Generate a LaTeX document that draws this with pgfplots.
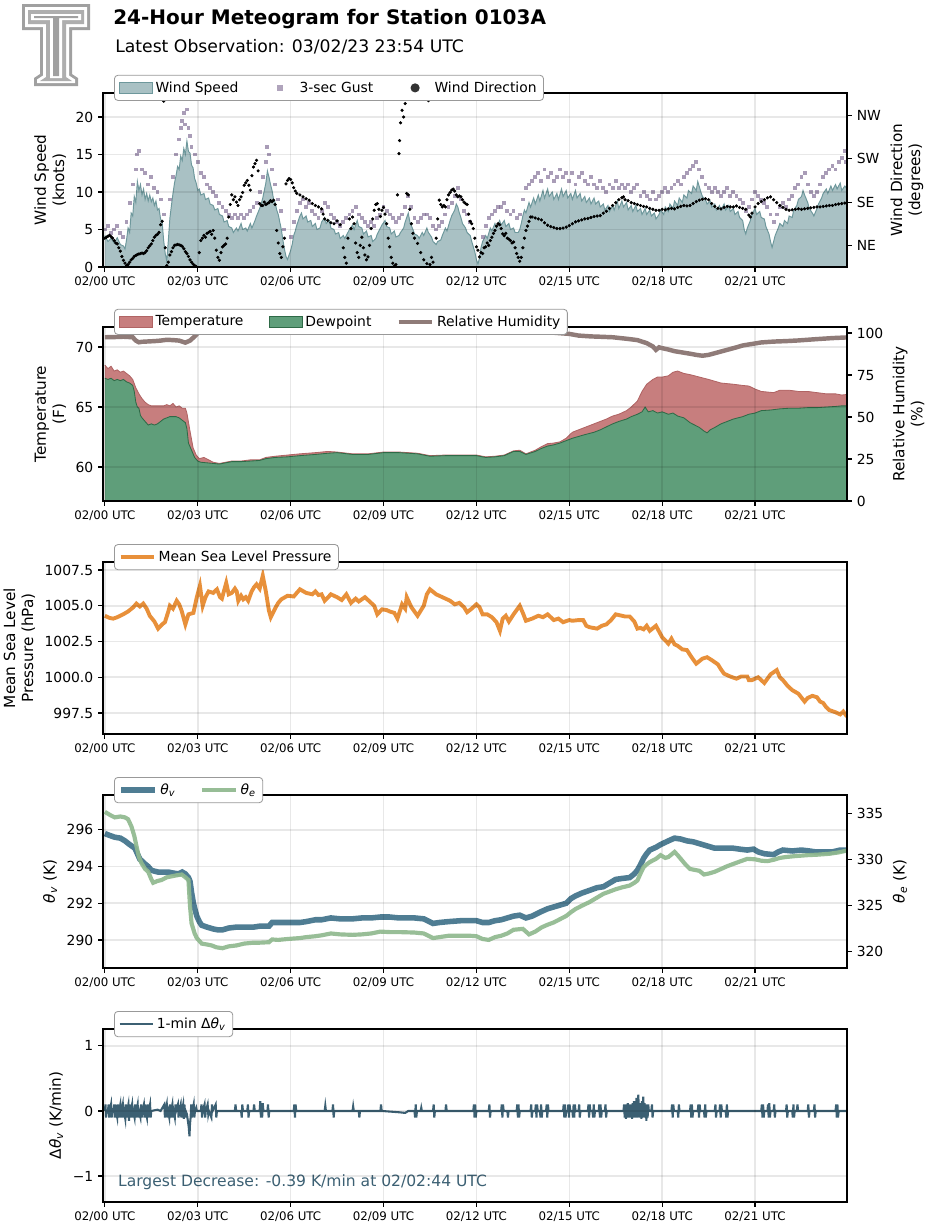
\documentclass[border=0pt]{standalone}
\usepackage{fontspec}
\setmainfont{DejaVu Sans}
\usepackage{pgfplots}
\usepackage{pgfplotstable}
\pgfplotsset{compat=1.18}

\definecolor{windfill}{HTML}{A9C1C4}
\definecolor{windedge}{HTML}{6E989C}
\definecolor{gustc}{HTML}{7B6790}
\definecolor{tempfill}{HTML}{C77E7E}
\definecolor{tempedge}{HTML}{B06464}
\definecolor{dewfill}{HTML}{5F9E7A}
\definecolor{dewedge}{HTML}{2F6A47}
\definecolor{rhc}{HTML}{8F7B78}
\definecolor{presc}{HTML}{E8903A}
\definecolor{thvc}{HTML}{4F7D93}
\definecolor{thec}{HTML}{8FB88E}
\definecolor{dthc}{HTML}{3C6073}
\definecolor{logoc}{HTML}{A0A0A0}

% pixel -> pt (reference drawn at 100 dpi)
\newcommand\PX[2]{({#1*0.72pt},{-#2*0.72pt})}
\newcommand\thv{\textit{θ}\textsubscript{\textit{v}}}
\newcommand\thetae{\textit{θ}\textsubscript{\textit{e}}}

% wind speed (knots) vs hour
\pgfplotstableread[row sep=\\]{
h v\\
0 4.2\\ 0.1 3.4\\ 0.2 3.8\\ 0.3 3.2\\ 0.4 3.9\\ 0.5 3.0\\ 0.6 2.8\\ 0.65 2.4\\ 0.7 3.6\\ 0.75 5.2\\ 0.8 4.6\\ 0.85 7.2\\ 0.9 6.8\\ 0.95 9.4\\ 1.0 8.6\\ 1.05 11.4\\ 1.1 10.2\\ 1.15 11.0\\ 1.2 9.6\\ 1.25 10.4\\ 1.3 9.0\\ 1.35 9.8\\ 1.4 8.8\\ 1.45 9.6\\ 1.5 8.7\\ 1.55 9.2\\ 1.6 8.2\\ 1.65 8.8\\ 1.7 7.6\\ 1.75 7.8\\ 1.8 6.4\\ 1.85 6.0\\ 1.9 3.5\\ 1.95 1.8\\ 2.0 0.8\\ 2.05 3.5\\ 2.1 6.5\\ 2.15 8.2\\ 2.2 9.8\\ 2.25 11.2\\ 2.3 12.2\\ 2.35 13.4\\ 2.4 13.0\\ 2.45 14.8\\ 2.5 14.2\\ 2.55 15.8\\ 2.6 15.0\\ 2.65 16.8\\ 2.7 15.4\\ 2.75 15.2\\ 2.8 13.6\\ 2.85 13.2\\ 2.9 11.8\\ 2.95 11.2\\ 3.0 10.2\\ 3.05 10.4\\ 3.1 9.6\\ 3.2 9.8\\ 3.25 9.0\\ 3.35 9.2\\ 3.4 8.4\\ 3.5 8.2\\ 3.55 7.6\\ 3.65 7.8\\ 3.7 7.0\\ 3.8 6.8\\ 3.85 6.0\\ 3.95 6.2\\ 4.0 5.4\\ 4.1 5.2\\ 4.15 4.6\\ 4.25 5.2\\ 4.3 4.8\\ 4.4 5.8\\ 4.45 5.0\\ 4.55 5.2\\ 4.6 4.8\\ 4.7 5.8\\ 4.75 5.2\\ 4.85 6.2\\ 4.9 6.8\\ 5.0 7.8\\ 5.05 8.4\\ 5.1 9.2\\ 5.15 10.2\\ 5.2 11.2\\ 5.25 12.8\\ 5.3 12.0\\ 5.35 11.0\\ 5.4 10.2\\ 5.45 9.0\\ 5.5 8.6\\ 5.55 7.6\\ 5.6 7.0\\ 5.65 6.0\\ 5.7 5.0\\ 5.75 3.6\\ 5.8 2.4\\ 5.85 1.4\\ 5.9 1.0\\ 5.95 1.6\\ 6.0 2.2\\ 6.05 3.0\\ 6.1 4.2\\ 6.15 4.8\\ 6.2 5.6\\ 6.25 6.2\\ 6.3 6.8\\ 6.35 7.2\\ 6.4 6.4\\ 6.5 6.8\\ 6.55 6.0\\ 6.65 6.2\\ 6.7 5.4\\ 6.8 5.8\\ 6.85 5.0\\ 6.95 5.2\\ 7.0 6.0\\ 7.1 6.6\\ 7.15 5.8\\ 7.25 6.2\\ 7.3 5.2\\ 7.4 5.0\\ 7.45 4.4\\ 7.55 4.6\\ 7.6 3.8\\ 7.7 4.2\\ 7.75 3.8\\ 7.85 4.6\\ 7.9 5.0\\ 8.0 5.6\\ 8.05 5.0\\ 8.15 6.2\\ 8.2 5.4\\ 8.3 5.2\\ 8.35 4.4\\ 8.45 4.8\\ 8.5 4.0\\ 8.6 4.2\\ 8.65 3.4\\ 8.75 3.8\\ 8.8 4.4\\ 8.9 5.2\\ 8.95 5.6\\ 9.05 6.2\\ 9.1 5.4\\ 9.2 5.2\\ 9.25 4.4\\ 9.35 4.8\\ 9.4 4.0\\ 9.5 4.2\\ 9.55 4.6\\ 9.65 5.2\\ 9.7 6.0\\ 9.8 7.2\\ 9.85 6.0\\ 9.95 5.0\\ 10.0 4.4\\ 10.1 4.2\\ 10.15 3.8\\ 10.25 4.6\\ 10.3 4.2\\ 10.4 5.2\\ 10.45 4.6\\ 10.55 4.0\\ 10.6 3.4\\ 10.7 3.0\\ 10.75 3.4\\ 10.85 3.6\\ 10.9 4.2\\ 11.0 5.2\\ 11.05 4.8\\ 11.15 6.2\\ 11.2 6.8\\ 11.3 7.6\\ 11.35 8.4\\ 11.4 8.0\\ 11.45 7.2\\ 11.5 6.6\\ 11.55 5.8\\ 11.65 5.2\\ 11.7 4.6\\ 11.8 4.2\\ 11.85 3.4\\ 11.95 2.0\\ 12.0 1.0\\ 12.05 0.4\\ 12.1 1.2\\ 12.15 2.6\\ 12.2 3.4\\ 12.3 4.2\\ 12.35 3.8\\ 12.45 5.2\\ 12.5 4.8\\ 12.6 5.8\\ 12.65 5.2\\ 12.75 6.2\\ 12.8 5.6\\ 12.9 6.2\\ 12.95 5.4\\ 13.05 5.8\\ 13.1 5.0\\ 13.2 5.2\\ 13.25 4.6\\ 13.35 4.6\\ 13.4 5.0\\ 13.45 5.8\\ 13.5 6.8\\ 13.55 7.6\\ 13.6 7.2\\ 13.7 8.6\\ 13.75 8.0\\ 13.85 9.2\\ 13.9 8.4\\ 14.0 9.6\\ 14.05 8.8\\ 14.15 10.2\\ 14.2 9.2\\ 14.3 10.4\\ 14.35 9.4\\ 14.45 10.0\\ 14.5 9.0\\ 14.6 9.8\\ 14.65 9.0\\ 14.75 10.4\\ 14.8 9.4\\ 14.9 10.2\\ 14.95 9.2\\ 15.05 9.8\\ 15.1 9.0\\ 15.2 10.2\\ 15.25 9.2\\ 15.35 9.8\\ 15.4 8.8\\ 15.5 9.4\\ 15.55 8.6\\ 15.65 9.2\\ 15.7 8.4\\ 15.8 9.2\\ 15.85 8.4\\ 15.95 8.8\\ 16.0 8.0\\ 16.1 8.4\\ 16.15 7.6\\ 16.25 8.2\\ 16.3 7.4\\ 16.4 8.2\\ 16.45 7.6\\ 16.55 8.8\\ 16.6 7.8\\ 16.7 8.8\\ 16.75 8.0\\ 16.85 8.6\\ 16.9 7.6\\ 17.0 8.2\\ 17.05 7.4\\ 17.15 8.2\\ 17.2 7.4\\ 17.3 7.8\\ 17.35 7.0\\ 17.45 7.8\\ 17.5 7.0\\ 17.6 7.6\\ 17.65 6.8\\ 17.75 7.2\\ 17.8 6.4\\ 17.9 7.0\\ 17.95 7.6\\ 18.05 7.0\\ 18.1 8.0\\ 18.2 7.4\\ 18.25 8.4\\ 18.35 7.8\\ 18.4 8.8\\ 18.5 8.2\\ 18.55 9.2\\ 18.65 8.6\\ 18.7 9.6\\ 18.8 9.2\\ 18.85 10.2\\ 18.95 9.8\\ 19.0 10.8\\ 19.1 10.2\\ 19.15 11.4\\ 19.25 10.0\\ 19.3 9.4\\ 19.4 9.0\\ 19.45 8.4\\ 19.55 8.8\\ 19.6 8.0\\ 19.7 8.4\\ 19.75 7.6\\ 19.85 8.2\\ 19.9 7.6\\ 20.0 8.4\\ 20.05 7.6\\ 20.15 8.2\\ 20.2 7.4\\ 20.3 7.8\\ 20.35 7.0\\ 20.45 7.4\\ 20.5 6.6\\ 20.6 6.2\\ 20.65 5.0\\ 20.7 4.4\\ 20.75 5.2\\ 20.85 6.2\\ 20.9 7.0\\ 21.0 7.8\\ 21.05 7.0\\ 21.15 7.4\\ 21.2 6.6\\ 21.3 6.4\\ 21.35 5.4\\ 21.45 4.4\\ 21.5 3.4\\ 21.55 2.6\\ 21.6 3.4\\ 21.65 4.2\\ 21.75 5.2\\ 21.8 5.8\\ 21.9 5.4\\ 21.95 6.2\\ 22.05 5.8\\ 22.1 6.8\\ 22.2 6.6\\ 22.25 7.6\\ 22.35 8.2\\ 22.4 9.0\\ 22.5 9.4\\ 22.55 10.2\\ 22.6 9.6\\ 22.7 8.6\\ 22.75 7.8\\ 22.85 7.2\\ 22.9 6.8\\ 23.0 7.8\\ 23.05 8.4\\ 23.15 9.2\\ 23.2 9.8\\ 23.3 10.4\\ 23.35 9.8\\ 23.45 10.8\\ 23.5 10.2\\ 23.6 11.0\\ 23.65 10.4\\ 23.75 11.2\\ 23.8 10.2\\ 23.9 10.8\\ 23.97 10.4\\
}\speed

% 3-second gusts (knots)
\pgfplotstableread[row sep=\\]{
h g\\
0.0 5\\ 0.1 5.5\\ 0.2 4.5\\ 0.3 5\\ 0.4 5.5\\ 0.5 4.5\\ 0.6 4\\ 0.7 6\\ 0.8 8.5\\ 0.9 11\\ 1.0 13\\ 1.05 15\\ 1.1 15.5\\ 1.2 13\\ 1.3 12.5\\ 1.4 11\\ 1.5 12\\ 1.6 10.5\\ 1.7 10\\ 1.8 9\\ 1.9 7\\ 2.1 9\\ 2.2 12\\ 2.3 15\\ 2.4 17\\ 2.45 18.5\\ 2.5 19.5\\ 2.55 20.5\\ 2.6 19\\ 2.65 21\\ 2.7 18.5\\ 2.75 17.5\\ 2.8 16\\ 2.9 15\\ 3.0 14\\ 3.1 12.5\\ 3.2 12\\ 3.3 11\\ 3.4 10.5\\ 3.5 10\\ 3.6 9.5\\ 3.7 8.5\\ 3.8 8\\ 3.9 7.5\\ 4.0 7\\ 4.1 6.5\\ 4.2 7\\ 4.3 6.5\\ 4.4 7\\ 4.5 6.5\\ 4.6 7\\ 4.7 7.5\\ 4.8 8\\ 4.9 8.5\\ 5.0 10\\ 5.1 12\\ 5.2 14\\ 5.25 16\\ 5.3 15\\ 5.4 13\\ 5.5 11\\ 5.6 9\\ 5.7 7.5\\ 5.8 5\\ 6.0 4\\ 6.1 6\\ 6.2 7.5\\ 6.3 8.5\\ 6.4 9\\ 6.5 8\\ 6.6 8.5\\ 6.7 7.5\\ 6.8 7\\ 6.9 6.5\\ 7.0 7.5\\ 7.1 8.5\\ 7.2 8\\ 7.3 7\\ 7.4 6.5\\ 7.5 6\\ 7.6 5.5\\ 7.7 6\\ 7.8 6.5\\ 7.9 7\\ 8.0 7.5\\ 8.1 8\\ 8.2 7\\ 8.3 6.5\\ 8.4 6\\ 8.5 5.5\\ 8.6 6\\ 8.7 5.5\\ 8.8 6.5\\ 8.9 7\\ 9.0 8\\ 9.1 7.5\\ 9.2 7\\ 9.3 6.5\\ 9.4 6\\ 9.5 6.5\\ 9.6 7\\ 9.7 8\\ 9.8 9.5\\ 9.9 8\\ 10.0 6.5\\ 10.1 6\\ 10.2 6.5\\ 10.3 7\\ 10.4 7\\ 10.5 6.5\\ 10.6 5.5\\ 10.7 5\\ 10.8 5.5\\ 10.9 6\\ 11.0 7\\ 11.1 8\\ 11.2 8.5\\ 11.3 9.5\\ 11.4 10.5\\ 11.5 9\\ 11.6 7.5\\ 11.7 7\\ 11.8 6\\ 12.2 4\\ 12.3 5.5\\ 12.4 6.5\\ 12.5 7\\ 12.6 7.5\\ 12.7 8\\ 12.8 8\\ 12.9 8.5\\ 13.0 7.5\\ 13.1 7\\ 13.2 7.5\\ 13.3 6.5\\ 13.4 7\\ 13.5 9\\ 13.6 10.5\\ 13.7 11\\ 13.8 11.5\\ 13.9 12\\ 14.0 12.5\\ 14.1 11.5\\ 14.2 13\\ 14.3 12\\ 14.4 12.5\\ 14.5 11.5\\ 14.6 12\\ 14.7 13\\ 14.8 12\\ 14.9 12.5\\ 15.0 11.5\\ 15.1 12.5\\ 15.2 11\\ 15.3 12\\ 15.4 12.5\\ 15.5 11.5\\ 15.6 11\\ 15.7 12\\ 15.8 11\\ 15.9 10.5\\ 16.0 11.5\\ 16.1 10.5\\ 16.2 10\\ 16.3 11\\ 16.4 10.5\\ 16.5 11.5\\ 16.6 10.5\\ 16.7 11\\ 16.8 10.5\\ 16.9 11\\ 17.0 10\\ 17.1 10.5\\ 17.2 11\\ 17.3 9.5\\ 17.4 10\\ 17.5 9.5\\ 17.6 9\\ 17.7 10\\ 17.8 9\\ 17.9 9.5\\ 18.0 10\\ 18.1 10.5\\ 18.2 10\\ 18.3 10.5\\ 18.4 11\\ 18.5 11.5\\ 18.6 11\\ 18.7 12\\ 18.8 12.5\\ 18.9 13\\ 19.0 13.5\\ 19.1 14\\ 19.2 13\\ 19.3 12\\ 19.4 11\\ 19.5 10.5\\ 19.6 10\\ 19.7 10.5\\ 19.8 10\\ 19.9 9.5\\ 20.0 10\\ 20.1 10.5\\ 20.2 9.5\\ 20.3 10\\ 20.4 9.5\\ 20.5 9\\ 20.6 8.5\\ 20.7 7.5\\ 20.8 8\\ 20.9 9\\ 21.0 10\\ 21.1 9.5\\ 21.2 9\\ 21.3 8.5\\ 21.4 8\\ 21.5 7\\ 21.6 6\\ 21.7 7\\ 21.8 8\\ 21.9 8.5\\ 22.0 8\\ 22.1 9\\ 22.2 9.5\\ 22.3 10.5\\ 22.4 11\\ 22.5 12\\ 22.6 12.5\\ 22.7 11\\ 22.8 10\\ 22.9 9.5\\ 23.0 10\\ 23.1 11\\ 23.2 12\\ 23.3 12.5\\ 23.4 13\\ 23.5 13.5\\ 23.6 13\\ 23.7 14\\ 23.8 14.5\\ 23.9 15.5\\ 23.95 14\\
}\gust

% wind direction (degrees)
\pgfplotstableread[row sep=\\]{
h d\\
0.0 60\\ 0.05 62\\ 0.1 64\\ 0.15 66\\ 0.2 63\\ 0.25 60\\ 0.3 55\\ 0.35 50\\ 0.4 48\\ 0.45 40\\ 0.5 33\\ 0.55 22\\ 0.6 14\\ 0.65 8\\ 0.7 3\\ 0.75 5\\ 0.8 10\\ 0.85 15\\ 0.9 18\\ 0.95 22\\ 1.0 24\\ 1.05 26\\ 1.1 27\\ 1.15 28\\ 1.2 29\\ 1.25 28\\ 1.3 30\\ 1.35 34\\ 1.4 40\\ 1.45 44\\ 1.5 48\\ 1.55 55\\ 1.6 62\\ 1.65 66\\ 1.7 68\\ 1.75 72\\ 1.8 88\\ 1.85 95\\ 1.88 350\\ 1.9 345\\ 1.93 356\\ 1.95 40\\ 2.0 3\\ 2.05 10\\ 2.1 25\\ 2.15 32\\ 2.2 40\\ 2.25 45\\ 2.3 46\\ 2.35 47\\ 2.4 46\\ 2.45 45\\ 2.5 43\\ 2.55 38\\ 2.6 32\\ 2.65 28\\ 2.7 22\\ 2.75 15\\ 2.8 10\\ 2.85 6\\ 2.9 3\\ 2.95 1\\ 3.05 30\\ 3.1 55\\ 3.15 60\\ 3.2 66\\ 3.25 62\\ 3.3 70\\ 3.35 72\\ 3.4 74\\ 3.45 68\\ 3.5 76\\ 3.55 60\\ 3.6 35\\ 3.65 20\\ 3.7 14\\ 3.75 30\\ 3.8 42\\ 3.85 45\\ 3.9 48\\ 3.95 60\\ 4.0 104\\ 4.05 130\\ 4.1 150\\ 4.15 140\\ 4.2 146\\ 4.25 135\\ 4.3 128\\ 4.35 140\\ 4.4 146\\ 4.45 155\\ 4.5 170\\ 4.55 175\\ 4.6 180\\ 4.65 170\\ 4.7 160\\ 4.75 190\\ 4.8 208\\ 4.85 215\\ 4.9 222\\ 4.95 200\\ 5.0 132\\ 5.05 128\\ 5.1 128\\ 5.15 135\\ 5.2 130\\ 5.25 132\\ 5.3 134\\ 5.35 138\\ 5.4 136\\ 5.45 139\\ 5.5 130\\ 5.55 76\\ 5.6 50\\ 5.65 28\\ 5.7 20\\ 5.75 42\\ 5.8 60\\ 5.85 173\\ 5.9 180\\ 5.95 184\\ 6.0 182\\ 6.05 175\\ 6.1 165\\ 6.15 158\\ 6.2 153\\ 6.3 150\\ 6.4 146\\ 6.5 142\\ 6.6 139\\ 6.7 132\\ 6.8 128\\ 6.9 125\\ 7.0 121\\ 7.05 110\\ 7.1 100\\ 7.2 97\\ 7.3 92\\ 7.4 90\\ 7.5 96\\ 7.6 88\\ 7.7 40\\ 7.75 20\\ 7.8 8\\ 7.85 60\\ 7.9 100\\ 7.95 80\\ 8.0 104\\ 8.05 90\\ 8.1 50\\ 8.15 30\\ 8.2 20\\ 8.25 45\\ 8.3 62\\ 8.35 40\\ 8.4 25\\ 8.45 15\\ 8.5 21\\ 8.55 45\\ 8.6 80\\ 8.65 100\\ 8.7 118\\ 8.75 130\\ 8.8 132\\ 8.85 120\\ 8.9 105\\ 8.95 118\\ 9.0 124\\ 9.05 110\\ 9.1 90\\ 9.15 60\\ 9.2 42\\ 9.25 20\\ 9.3 8\\ 9.35 2\\ 9.4 5\\ 9.45 150\\ 9.5 236\\ 9.52 263\\ 9.55 300\\ 9.6 326\\ 9.65 312\\ 9.7 340\\ 9.72 350\\ 9.75 153\\ 9.8 150\\ 9.85 120\\ 9.9 90\\ 9.95 70\\ 10.0 60\\ 10.1 49\\ 10.2 30\\ 10.3 15\\ 10.35 355\\ 10.4 7\\ 10.45 346\\ 10.5 5\\ 10.55 20\\ 10.6 10\\ 10.7 60\\ 10.75 100\\ 10.8 139\\ 10.85 130\\ 10.9 125\\ 10.95 128\\ 11.0 125\\ 11.05 140\\ 11.1 150\\ 11.15 155\\ 11.2 160\\ 11.25 162\\ 11.3 158\\ 11.35 150\\ 11.4 146\\ 11.45 148\\ 11.5 146\\ 11.55 140\\ 11.6 135\\ 11.65 132\\ 11.7 130\\ 11.75 110\\ 11.8 95\\ 11.85 90\\ 11.9 80\\ 11.95 60\\ 12.0 42\\ 12.05 35\\ 12.1 21\\ 12.15 30\\ 12.2 28\\ 12.25 40\\ 12.3 42\\ 12.35 50\\ 12.4 45\\ 12.45 55\\ 12.5 62\\ 12.55 70\\ 12.6 76\\ 12.65 85\\ 12.7 90\\ 12.75 88\\ 12.8 80\\ 12.85 69\\ 12.9 65\\ 12.95 70\\ 13.0 60\\ 13.05 58\\ 13.1 55\\ 13.15 50\\ 13.2 52\\ 13.25 40\\ 13.3 28\\ 13.35 20\\ 13.4 12\\ 13.45 20\\ 13.5 40\\ 13.55 60\\ 13.6 76\\ 13.65 85\\ 13.7 95\\ 13.75 104\\ 13.8 104\\ 13.9 102\\ 14.0 100\\ 14.1 98\\ 14.2 92\\ 14.3 87\\ 14.4 84\\ 14.5 82\\ 14.6 80\\ 14.7 80\\ 14.8 81\\ 14.9 83\\ 15.0 86\\ 15.1 90\\ 15.2 94\\ 15.3 96\\ 15.4 98\\ 15.5 100\\ 15.6 101\\ 15.7 103\\ 15.8 105\\ 15.9 106\\ 16.0 107\\ 16.1 112\\ 16.2 116\\ 16.3 122\\ 16.4 128\\ 16.5 134\\ 16.6 140\\ 16.7 144\\ 16.75 146\\ 16.8 140\\ 16.9 138\\ 17.0 134\\ 17.1 132\\ 17.2 130\\ 17.3 128\\ 17.4 126\\ 17.5 125\\ 17.6 122\\ 17.7 120\\ 17.8 118\\ 17.9 118\\ 18.0 120\\ 18.1 119\\ 18.2 121\\ 18.3 122\\ 18.4 121\\ 18.5 124\\ 18.6 126\\ 18.7 128\\ 18.8 127\\ 18.9 128\\ 19.0 132\\ 19.1 136\\ 19.2 139\\ 19.3 141\\ 19.4 142\\ 19.5 140\\ 19.6 132\\ 19.7 126\\ 19.8 122\\ 19.9 121\\ 20.0 124\\ 20.1 126\\ 20.2 125\\ 20.3 125\\ 20.4 127\\ 20.5 124\\ 20.6 122\\ 20.7 120\\ 20.8 108\\ 20.85 104\\ 20.9 112\\ 21.0 125\\ 21.1 132\\ 21.2 136\\ 21.3 140\\ 21.4 144\\ 21.5 146\\ 21.6 140\\ 21.7 134\\ 21.8 128\\ 21.9 124\\ 22.0 120\\ 22.1 118\\ 22.2 119\\ 22.3 120\\ 22.4 121\\ 22.5 120\\ 22.6 121\\ 22.7 122\\ 22.8 123\\ 22.9 124\\ 23.0 125\\ 23.1 125\\ 23.2 126\\ 23.3 127\\ 23.4 128\\ 23.5 128\\ 23.6 130\\ 23.7 131\\ 23.8 132\\ 23.9 133\\ 23.97 133\\
}\wdir

% temperature (F)
\pgfplotstableread[row sep=\\]{
h t\\
0 68.5\\ 0.1 68.2\\ 0.2 68.4\\ 0.3 68.0\\ 0.4 68.1\\ 0.5 67.9\\ 0.6 68.0\\ 0.7 67.8\\ 0.8 67.6\\ 0.9 67.3\\ 1.0 66.6\\ 1.1 66.1\\ 1.2 65.7\\ 1.3 65.4\\ 1.4 65.2\\ 1.5 65.1\\ 1.7 65.1\\ 1.9 65.1\\ 2.0 65.2\\ 2.1 65.1\\ 2.2 65.3\\ 2.3 65.0\\ 2.4 65.1\\ 2.5 64.9\\ 2.6 64.9\\ 2.65 64.5\\ 2.75 63.0\\ 2.85 61.6\\ 2.95 61.0\\ 3.05 60.7\\ 3.2 60.8\\ 3.35 60.6\\ 3.5 60.4\\ 3.7 60.3\\ 3.9 60.4\\ 4.1 60.5\\ 4.4 60.5\\ 4.7 60.6\\ 5.0 60.6\\ 5.2 60.8\\ 5.5 60.9\\ 5.9 61.0\\ 6.3 61.1\\ 6.8 61.2\\ 7.2 61.3\\ 7.5 61.25\\ 8.0 61.1\\ 8.5 61.1\\ 9.0 61.25\\ 9.5 61.25\\ 10.1 61.15\\ 10.5 60.95\\ 11.0 61.0\\ 11.5 61.0\\ 12.0 61.0\\ 12.3 60.85\\ 12.6 60.9\\ 12.9 61.0\\ 13.2 61.35\\ 13.4 61.4\\ 13.6 61.1\\ 13.9 61.4\\ 14.1 61.7\\ 14.3 61.95\\ 14.5 62.0\\ 14.7 62.1\\ 14.9 62.4\\ 15.1 62.9\\ 15.3 63.1\\ 15.5 63.3\\ 15.8 63.6\\ 16.0 63.8\\ 16.2 64.0\\ 16.4 64.25\\ 16.6 64.4\\ 16.85 64.7\\ 17.0 65.0\\ 17.2 65.5\\ 17.35 66.3\\ 17.5 66.9\\ 17.7 67.3\\ 17.85 67.5\\ 18.0 67.5\\ 18.2 67.6\\ 18.35 67.9\\ 18.5 68.0\\ 18.7 67.8\\ 18.9 67.7\\ 19.2 67.5\\ 19.5 67.3\\ 19.9 67.0\\ 20.3 66.9\\ 20.6 66.8\\ 20.8 66.75\\ 21.0 66.5\\ 21.2 66.3\\ 21.6 66.2\\ 21.8 66.4\\ 22.1 66.4\\ 22.4 66.3\\ 22.7 66.3\\ 23.0 66.2\\ 23.3 66.1\\ 23.6 66.1\\ 23.8 66.0\\ 23.97 66.05\\
}\temp

% dewpoint (F)
\pgfplotstableread[row sep=\\]{
h t\\
0 67.4\\ 0.1 67.3\\ 0.2 67.4\\ 0.3 67.2\\ 0.4 67.3\\ 0.5 67.2\\ 0.6 67.3\\ 0.7 67.1\\ 0.8 67.0\\ 0.9 66.8\\ 0.95 66.3\\ 1.0 65.4\\ 1.05 65.0\\ 1.1 64.9\\ 1.15 64.3\\ 1.2 64.1\\ 1.3 63.8\\ 1.4 63.5\\ 1.5 63.6\\ 1.6 63.5\\ 1.7 63.6\\ 1.8 63.8\\ 1.9 64.0\\ 2.0 64.1\\ 2.1 64.2\\ 2.2 64.2\\ 2.3 64.2\\ 2.4 64.1\\ 2.5 63.9\\ 2.6 63.7\\ 2.65 63.2\\ 2.7 62.0\\ 2.8 61.4\\ 2.9 60.8\\ 3.0 60.5\\ 3.1 60.4\\ 3.3 60.35\\ 3.5 60.3\\ 3.7 60.25\\ 3.9 60.35\\ 4.1 60.45\\ 4.4 60.45\\ 4.7 60.5\\ 5.0 60.55\\ 5.2 60.7\\ 5.5 60.8\\ 5.9 60.85\\ 6.3 60.95\\ 6.8 61.05\\ 7.2 61.15\\ 7.5 61.2\\ 8.0 61.05\\ 8.5 61.05\\ 9.0 61.2\\ 9.5 61.2\\ 10.1 61.1\\ 10.5 60.9\\ 11.0 60.95\\ 11.5 60.95\\ 12.0 60.95\\ 12.3 60.8\\ 12.6 60.85\\ 12.9 60.95\\ 13.2 61.3\\ 13.4 61.3\\ 13.6 61.05\\ 13.9 61.3\\ 14.1 61.55\\ 14.3 61.75\\ 14.5 61.85\\ 14.7 62.0\\ 14.9 62.2\\ 15.1 62.4\\ 15.3 62.55\\ 15.5 62.7\\ 15.8 62.9\\ 16.0 63.1\\ 16.2 63.35\\ 16.4 63.6\\ 16.6 63.8\\ 16.85 64.0\\ 17.0 64.2\\ 17.2 64.4\\ 17.35 64.6\\ 17.45 65.0\\ 17.55 64.6\\ 17.7 64.7\\ 17.85 64.5\\ 18.0 64.6\\ 18.2 64.4\\ 18.35 64.5\\ 18.5 64.25\\ 18.7 64.1\\ 18.9 63.7\\ 19.05 63.5\\ 19.2 63.3\\ 19.35 63.0\\ 19.45 62.85\\ 19.55 63.1\\ 19.7 63.3\\ 19.9 63.6\\ 20.1 63.8\\ 20.3 64.0\\ 20.6 64.2\\ 20.8 64.4\\ 21.0 64.5\\ 21.2 64.7\\ 21.5 64.75\\ 21.8 64.85\\ 22.1 64.9\\ 22.4 64.9\\ 22.7 64.95\\ 23.0 64.95\\ 23.3 65.0\\ 23.6 65.05\\ 23.8 65.1\\ 23.97 65.1\\
}\dew

% relative humidity (%)
\pgfplotstableread[row sep=\\]{
h r\\
0 97.5\\ 0.3 97.6\\ 0.6 97.8\\ 0.9 97.5\\ 1.0 95.5\\ 1.1 94.5\\ 1.2 94.8\\ 1.4 95\\ 1.6 95.2\\ 1.8 95.5\\ 2.0 96\\ 2.2 95.8\\ 2.4 95.5\\ 2.6 94.3\\ 2.75 95.5\\ 2.9 98\\ 3.0 100\\ 3.1 101.5\\ 3.3 102.5\\ 3.5 104.5\\ 11.5 104.5\\ 12.0 102\\ 12.5 101.5\\ 13 101.2\\ 13.5 101\\ 14 100.5\\ 14.5 100.2\\ 15 99.5\\ 15.3 98.5\\ 15.7 98\\ 16.0 97.8\\ 16.4 97.5\\ 16.9 96.5\\ 17.2 95.8\\ 17.5 94\\ 17.7 92\\ 17.8 90\\ 17.9 91.5\\ 18.0 91\\ 18.2 90.2\\ 18.4 89.2\\ 18.6 88.6\\ 18.9 87.7\\ 19.1 87\\ 19.3 86.5\\ 19.5 87\\ 19.8 88.5\\ 20.0 89.5\\ 20.2 90.5\\ 20.4 91.5\\ 20.6 92.6\\ 20.9 93.5\\ 21.2 94.4\\ 21.5 94.8\\ 21.7 95\\ 22.0 95.2\\ 22.4 95.6\\ 22.7 96\\ 23.0 96.4\\ 23.5 97\\ 23.97 97.4\\
}\rh

% mean sea level pressure (hPa)
\pgfplotstableread[row sep=\\]{
h p\\
0 1004.3\\ 0.15 1004.15\\ 0.27 1004.1\\ 0.4 1004.2\\ 0.59 1004.4\\ 0.75 1004.6\\ 0.92 1004.9\\ 1.02 1005.15\\ 1.13 1004.95\\ 1.24 1005.15\\ 1.35 1004.8\\ 1.45 1004.3\\ 1.6 1003.9\\ 1.72 1003.4\\ 1.85 1003.7\\ 1.94 1003.85\\ 2.05 1004.6\\ 2.1 1005.0\\ 2.2 1004.8\\ 2.32 1005.35\\ 2.4 1005.1\\ 2.48 1004.65\\ 2.6 1003.7\\ 2.7 1004.4\\ 2.86 1004.5\\ 2.97 1005.6\\ 3.07 1006.4\\ 3.16 1005.0\\ 3.25 1005.6\\ 3.35 1006.0\\ 3.5 1005.9\\ 3.62 1006.15\\ 3.72 1005.6\\ 3.78 1005.5\\ 3.92 1006.6\\ 4.0 1005.8\\ 4.1 1005.9\\ 4.2 1006.2\\ 4.26 1006.0\\ 4.31 1005.35\\ 4.4 1005.7\\ 4.47 1005.45\\ 4.55 1005.6\\ 4.63 1005.35\\ 4.74 1006.0\\ 4.82 1006.3\\ 4.9 1006.5\\ 5.0 1006.2\\ 5.1 1007.1\\ 5.2 1006.0\\ 5.3 1004.65\\ 5.36 1004.2\\ 5.45 1004.6\\ 5.52 1004.9\\ 5.6 1005.2\\ 5.7 1005.45\\ 5.9 1005.7\\ 6.1 1005.65\\ 6.2 1005.9\\ 6.3 1006.15\\ 6.5 1005.9\\ 6.7 1005.8\\ 6.8 1006.0\\ 6.9 1005.75\\ 7.0 1005.8\\ 7.1 1005.35\\ 7.3 1005.8\\ 7.5 1005.6\\ 7.65 1005.4\\ 7.8 1005.8\\ 7.95 1005.2\\ 8.1 1005.5\\ 8.2 1005.3\\ 8.4 1005.6\\ 8.6 1005.2\\ 8.7 1005.0\\ 8.8 1004.4\\ 8.95 1004.75\\ 9.1 1004.7\\ 9.2 1004.6\\ 9.35 1004.5\\ 9.45 1004.1\\ 9.6 1005.1\\ 9.7 1004.8\\ 9.75 1005.6\\ 9.9 1004.9\\ 10.0 1004.6\\ 10.1 1004.3\\ 10.3 1005.0\\ 10.4 1005.8\\ 10.5 1006.15\\ 10.7 1005.8\\ 10.9 1005.6\\ 11.15 1005.35\\ 11.3 1005.1\\ 11.45 1005.2\\ 11.6 1004.9\\ 11.7 1004.55\\ 11.85 1004.8\\ 12.0 1005.1\\ 12.1 1004.9\\ 12.2 1004.4\\ 12.35 1004.4\\ 12.5 1004.2\\ 12.65 1003.85\\ 12.76 1003.25\\ 12.85 1004.1\\ 12.95 1004.3\\ 13.05 1003.9\\ 13.2 1004.4\\ 13.3 1004.7\\ 13.4 1005.0\\ 13.5 1004.5\\ 13.6 1003.95\\ 13.8 1004.1\\ 14.0 1004.3\\ 14.15 1004.2\\ 14.3 1004.4\\ 14.5 1004.0\\ 14.65 1004.1\\ 14.8 1003.85\\ 15.0 1004.0\\ 15.1 1003.95\\ 15.3 1004.0\\ 15.45 1004.0\\ 15.55 1003.6\\ 15.65 1003.5\\ 15.9 1003.4\\ 16.05 1003.6\\ 16.2 1003.7\\ 16.35 1004.0\\ 16.5 1004.4\\ 16.6 1004.35\\ 16.8 1004.25\\ 16.95 1004.25\\ 17.1 1003.9\\ 17.2 1003.4\\ 17.3 1003.45\\ 17.4 1003.35\\ 17.5 1003.6\\ 17.6 1003.25\\ 17.8 1003.6\\ 17.9 1003.2\\ 18.0 1002.8\\ 18.2 1002.35\\ 18.3 1002.7\\ 18.4 1002.3\\ 18.5 1002.2\\ 18.65 1001.95\\ 18.8 1001.9\\ 18.95 1001.4\\ 19.1 1000.95\\ 19.3 1001.3\\ 19.45 1001.4\\ 19.6 1001.2\\ 19.8 1000.9\\ 19.9 1000.55\\ 20.0 1000.25\\ 20.2 1000.05\\ 20.4 999.9\\ 20.55 1000.05\\ 20.75 1000.05\\ 20.8 999.8\\ 20.9 999.8\\ 21.1 1000.0\\ 21.2 999.8\\ 21.3 999.6\\ 21.5 1000.2\\ 21.7 1000.5\\ 21.8 1000.0\\ 21.9 999.8\\ 22.05 999.4\\ 22.2 999.1\\ 22.4 998.85\\ 22.6 998.3\\ 22.7 998.55\\ 22.85 998.7\\ 23.0 998.6\\ 23.1 998.3\\ 23.2 998.2\\ 23.3 997.9\\ 23.4 997.7\\ 23.6 997.55\\ 23.75 997.4\\ 23.85 997.6\\ 23.97 997.25\\
}\pres

% virtual potential temperature (K)
\pgfplotstableread[row sep=\\]{
h k\\
0 295.8\\ 0.15 295.7\\ 0.32 295.6\\ 0.5 295.55\\ 0.65 295.4\\ 0.8 295.2\\ 0.97 295.0\\ 1.05 294.7\\ 1.13 294.4\\ 1.2 294.3\\ 1.29 294.15\\ 1.4 294.0\\ 1.5 293.8\\ 1.6 293.75\\ 1.72 293.7\\ 1.9 293.7\\ 2.05 293.7\\ 2.2 293.65\\ 2.37 293.6\\ 2.5 293.7\\ 2.6 293.6\\ 2.7 293.4\\ 2.75 293.2\\ 2.8 292.6\\ 2.86 292.0\\ 2.92 291.6\\ 2.97 291.3\\ 3.05 291.0\\ 3.13 290.8\\ 3.3 290.7\\ 3.5 290.6\\ 3.65 290.55\\ 3.8 290.55\\ 4.0 290.65\\ 4.25 290.7\\ 4.5 290.7\\ 4.8 290.7\\ 5.0 290.75\\ 5.3 290.75\\ 5.4 290.95\\ 5.6 290.95\\ 5.9 290.95\\ 6.3 290.95\\ 6.5 291.0\\ 6.8 291.1\\ 7.0 291.1\\ 7.3 291.2\\ 7.6 291.15\\ 8.0 291.15\\ 8.3 291.2\\ 8.6 291.2\\ 8.9 291.25\\ 9.2 291.25\\ 9.5 291.2\\ 10.0 291.2\\ 10.3 291.15\\ 10.6 290.9\\ 10.8 290.95\\ 11.1 291.0\\ 11.5 291.05\\ 11.8 291.05\\ 12.0 291.05\\ 12.2 290.95\\ 12.4 290.95\\ 12.6 291.05\\ 12.8 291.1\\ 13.0 291.2\\ 13.2 291.3\\ 13.4 291.35\\ 13.6 291.2\\ 13.8 291.3\\ 14.1 291.55\\ 14.3 291.7\\ 14.5 291.8\\ 14.7 291.9\\ 14.9 292.0\\ 15.05 292.25\\ 15.2 292.4\\ 15.4 292.55\\ 15.65 292.7\\ 15.9 292.85\\ 16.1 292.9\\ 16.3 293.1\\ 16.5 293.3\\ 16.7 293.35\\ 16.95 293.4\\ 17.1 293.6\\ 17.2 293.8\\ 17.3 294.1\\ 17.4 294.45\\ 17.5 294.7\\ 17.6 294.9\\ 17.8 295.05\\ 17.95 295.2\\ 18.2 295.4\\ 18.4 295.55\\ 18.6 295.5\\ 18.8 295.4\\ 19.0 295.35\\ 19.3 295.2\\ 19.5 295.1\\ 19.7 295.0\\ 20.0 295.0\\ 20.3 295.0\\ 20.5 294.95\\ 20.75 294.9\\ 20.95 294.95\\ 21.1 294.8\\ 21.3 294.7\\ 21.6 294.65\\ 21.75 294.8\\ 21.9 294.9\\ 22.2 294.85\\ 22.5 294.9\\ 22.75 294.85\\ 22.95 294.8\\ 23.2 294.8\\ 23.5 294.8\\ 23.75 294.9\\ 23.97 294.9\\
}\thetav

% equivalent potential temperature (K)
\pgfplotstableread[row sep=\\]{
h k\\
0 335.2\\ 0.1 335.0\\ 0.2 334.8\\ 0.32 334.6\\ 0.5 334.7\\ 0.65 334.6\\ 0.75 334.4\\ 0.86 333.6\\ 0.95 332.6\\ 1.02 331.5\\ 1.1 330.3\\ 1.18 329.65\\ 1.3 329.0\\ 1.4 328.7\\ 1.5 327.9\\ 1.56 327.5\\ 1.7 327.7\\ 1.83 327.8\\ 2.0 328.1\\ 2.15 328.2\\ 2.3 328.3\\ 2.48 328.4\\ 2.6 328.1\\ 2.7 327.8\\ 2.75 325.0\\ 2.8 323.1\\ 2.9 322.0\\ 2.97 321.5\\ 3.13 320.9\\ 3.3 320.8\\ 3.45 320.7\\ 3.6 320.5\\ 3.8 320.4\\ 4.0 320.6\\ 4.25 320.7\\ 4.5 320.9\\ 4.8 321.0\\ 5.0 321.0\\ 5.3 321.05\\ 5.4 321.35\\ 5.6 321.3\\ 5.9 321.4\\ 6.3 321.5\\ 6.5 321.6\\ 6.8 321.7\\ 7.0 321.8\\ 7.3 322.0\\ 7.6 321.9\\ 8.0 321.85\\ 8.3 321.9\\ 8.6 322.0\\ 8.9 322.2\\ 9.2 322.15\\ 9.5 322.15\\ 10.0 322.1\\ 10.3 322.0\\ 10.6 321.5\\ 10.8 321.6\\ 11.1 321.75\\ 11.5 321.75\\ 11.8 321.75\\ 12.0 321.7\\ 12.2 321.4\\ 12.4 321.3\\ 12.6 321.6\\ 12.8 321.75\\ 13.0 322.0\\ 13.2 322.4\\ 13.5 322.5\\ 13.7 321.9\\ 13.9 322.2\\ 14.1 322.65\\ 14.3 322.95\\ 14.5 323.2\\ 14.7 323.55\\ 14.9 323.9\\ 15.05 324.3\\ 15.2 324.65\\ 15.4 325.0\\ 15.65 325.4\\ 15.9 325.9\\ 16.1 326.3\\ 16.3 326.55\\ 16.5 326.8\\ 16.7 327.0\\ 16.95 327.2\\ 17.1 327.5\\ 17.2 327.75\\ 17.3 328.5\\ 17.4 329.2\\ 17.5 329.5\\ 17.6 329.75\\ 17.8 330.1\\ 17.95 330.5\\ 18.1 330.2\\ 18.2 330.3\\ 18.4 330.85\\ 18.5 330.5\\ 18.6 330.1\\ 18.75 329.5\\ 18.9 329.0\\ 19.05 328.9\\ 19.2 328.8\\ 19.35 328.4\\ 19.5 328.5\\ 19.7 328.7\\ 19.9 329.0\\ 20.1 329.3\\ 20.3 329.55\\ 20.5 329.8\\ 20.75 330.1\\ 21.0 330.05\\ 21.2 329.9\\ 21.4 329.85\\ 21.6 330.0\\ 21.8 330.2\\ 22.0 330.3\\ 22.3 330.4\\ 22.7 330.5\\ 23.0 330.55\\ 23.4 330.65\\ 23.7 330.8\\ 23.97 331.0\\
}\thetaE

% 1-min change of theta_v (K/min)
\pgfplotstableread[row sep=\\]{
h d\\
0 0\\ 0.02 0.1\\ 0.04 -0.1\\ 0.06 0\\ 0.1 0\\ 0.12 0.1\\ 0.14 -0.1\\ 0.16 0\\ 0.2 0.1\\ 0.22 -0.1\\ 0.24 0\\ 0.28 0\\ 0.3 0.1\\ 0.32 -0.1\\ 0.34 0.1\\ 0.36 0\\ 0.4 -0.1\\ 0.42 0.1\\ 0.44 -0.1\\ 0.46 0\\ 0.5 0.1\\ 0.52 -0.1\\ 0.54 0\\ 0.58 0.1\\ 0.6 -0.1\\ 0.62 0\\ 0.66 -0.12\\ 0.68 0.1\\ 0.7 -0.1\\ 0.72 0\\ 0.76 0.1\\ 0.78 -0.15\\ 0.8 0.1\\ 0.82 -0.1\\ 0.84 0\\ 0.88 0.1\\ 0.9 -0.1\\ 0.92 0\\ 0.96 -0.1\\ 0.98 0.1\\ 1.0 -0.1\\ 1.02 0\\ 1.06 0.1\\ 1.08 -0.1\\ 1.1 0\\ 1.15 -0.1\\ 1.17 0.1\\ 1.19 -0.1\\ 1.21 0\\ 1.26 0.1\\ 1.28 -0.1\\ 1.3 0.1\\ 1.32 0\\ 1.36 -0.1\\ 1.38 0.1\\ 1.4 -0.1\\ 1.42 0\\ 1.46 0.1\\ 1.48 -0.1\\ 1.5 0\\ 1.7 0.02\\ 1.8 0\\
1.92 0.1\\ 1.94 -0.1\\ 1.96 0\\ 2.0 0.1\\ 2.02 -0.1\\ 2.04 0\\ 2.08 -0.1\\ 2.1 0.1\\ 2.12 -0.1\\ 2.14 0\\ 2.18 0.1\\ 2.2 -0.1\\ 2.22 0\\ 2.26 -0.1\\ 2.28 0.1\\ 2.3 0\\ 2.36 0.1\\ 2.38 -0.1\\ 2.4 0\\ 2.45 0.1\\ 2.47 -0.1\\ 2.49 0\\ 2.53 0.1\\ 2.55 -0.12\\ 2.57 0.1\\ 2.59 -0.1\\ 2.61 0\\ 2.65 -0.05\\ 2.68 -0.15\\ 2.71 -0.25\\ 2.733 -0.39\\ 2.75 -0.2\\ 2.77 -0.1\\ 2.79 0.1\\ 2.81 -0.1\\ 2.83 0\\ 2.87 0.1\\ 2.89 -0.1\\ 2.91 0\\ 2.95 0.05\\ 2.97 0\\
3.1 0\\ 3.12 0.1\\ 3.14 -0.1\\ 3.16 0\\ 3.22 0.1\\ 3.24 -0.1\\ 3.26 0\\ 3.32 0.1\\ 3.34 -0.05\\ 3.36 0\\ 3.44 -0.1\\ 3.46 0.1\\ 3.48 0\\ 3.58 0.1\\ 3.6 -0.1\\ 3.62 0\\ 4.2 0\\ 4.22 0.1\\ 4.24 0\\ 4.4 0\\ 4.42 -0.1\\ 4.44 0.1\\ 4.46 0\\ 4.6 0\\ 4.62 0.1\\ 4.64 -0.1\\ 4.66 0\\ 4.8 0\\ 4.82 0.1\\ 4.84 0\\ 5.0 0\\ 5.02 0.15\\ 5.04 -0.1\\ 5.06 0.1\\ 5.08 -0.1\\ 5.1 0.12\\ 5.12 0\\ 5.25 0\\ 5.27 0.1\\ 5.29 -0.1\\ 5.31 0\\ 6.1 0\\ 6.12 0.1\\ 6.14 -0.1\\ 6.16 0.1\\ 6.18 0\\ 7.1 0\\ 7.12 0.08\\ 7.14 0\\ 7.35 0\\ 7.37 0.1\\ 7.39 -0.1\\ 7.41 0\\ 8.0 0\\ 8.02 0.07\\ 8.04 0\\ 8.2 0\\ 8.22 -0.1\\ 8.24 0\\ 8.9 0\\ 8.92 0.1\\ 8.94 0\\ 9.5 -0.02\\ 9.7 -0.03\\ 9.8 0\\
10.0 0\\ 10.02 -0.1\\ 10.04 0.1\\ 10.06 -0.1\\ 10.08 0\\ 10.2 0\\ 10.22 0.05\\ 10.24 0\\ 10.6 0\\ 10.62 0.1\\ 10.64 -0.1\\ 10.66 0\\ 11.0 0\\ 11.02 0.1\\ 11.04 0\\ 11.9 0\\ 11.92 0.1\\ 11.94 -0.1\\ 11.96 0.1\\ 11.98 -0.1\\ 12.0 0\\ 12.4 0\\ 12.42 0.1\\ 12.44 -0.1\\ 12.46 0\\ 12.8 0\\ 12.82 0.1\\ 12.84 -0.1\\ 12.86 0.1\\ 12.88 0\\ 13.0 0\\ 13.02 -0.1\\ 13.04 0\\ 13.3 0\\ 13.32 0.1\\ 13.34 -0.1\\ 13.36 0.1\\ 13.38 -0.1\\ 13.4 0\\
13.75 0\\ 13.77 0.1\\ 13.79 -0.1\\ 13.81 0\\ 13.9 0\\ 13.92 0.1\\ 13.94 -0.1\\ 13.96 0.1\\ 13.98 0\\ 14.05 0\\ 14.07 -0.1\\ 14.09 0.1\\ 14.11 -0.1\\ 14.13 0\\ 14.25 0\\ 14.27 0.1\\ 14.29 -0.1\\ 14.31 0.1\\ 14.33 0\\
14.8 0\\ 14.82 0.1\\ 14.84 -0.1\\ 14.86 0.1\\ 14.88 -0.1\\ 14.9 0\\ 14.95 0\\ 14.97 0.1\\ 14.99 -0.1\\ 15.01 0.1\\ 15.03 0\\ 15.1 0\\ 15.12 -0.1\\ 15.14 0.1\\ 15.16 -0.1\\ 15.18 0.1\\ 15.2 0\\ 15.3 0\\ 15.32 0.1\\ 15.34 -0.1\\ 15.36 0\\ 15.6 0\\ 15.62 0.1\\ 15.64 -0.1\\ 15.66 0.1\\ 15.68 0\\ 15.75 0\\ 15.77 -0.1\\ 15.79 0.1\\ 15.81 -0.1\\ 15.83 0\\ 15.95 0\\ 15.97 0.1\\ 15.99 -0.1\\ 16.01 0.1\\ 16.03 -0.1\\ 16.05 0\\ 16.15 0\\ 16.17 0.1\\ 16.19 -0.1\\ 16.21 0\\
16.75 0\\ 16.77 0.1\\ 16.79 -0.1\\ 16.81 0.1\\ 16.83 -0.12\\ 16.85 0.1\\ 16.87 -0.1\\ 16.89 0.12\\ 16.91 -0.1\\ 16.93 0.1\\ 16.95 -0.1\\ 16.97 0.1\\ 16.99 -0.1\\ 17.01 0.1\\ 17.03 -0.12\\ 17.05 0.12\\ 17.07 -0.1\\ 17.09 0.15\\ 17.11 -0.1\\ 17.13 0.1\\ 17.15 -0.1\\ 17.17 0.2\\ 17.19 -0.1\\ 17.21 0.1\\ 17.23 0.25\\ 17.25 -0.1\\ 17.27 0.12\\ 17.29 -0.1\\ 17.31 0.1\\ 17.33 -0.12\\ 17.35 0.15\\ 17.37 -0.1\\ 17.39 0.22\\ 17.41 -0.1\\ 17.43 0.12\\ 17.45 -0.1\\ 17.47 0.1\\ 17.49 -0.15\\ 17.51 0.1\\ 17.53 -0.1\\ 17.55 0.1\\ 17.57 0\\ 17.65 0\\ 17.67 0.1\\ 17.69 -0.1\\ 17.71 0\\
18.3 0\\ 18.32 0.1\\ 18.34 -0.1\\ 18.36 0.1\\ 18.38 0\\ 18.5 0\\ 18.52 -0.1\\ 18.54 0.1\\ 18.56 0\\ 18.9 0\\ 18.92 0.1\\ 18.94 -0.1\\ 18.96 0.1\\ 18.98 -0.1\\ 19.0 0\\ 19.15 0\\ 19.17 0.1\\ 19.19 -0.1\\ 19.21 0.1\\ 19.23 0\\ 19.35 0\\ 19.37 -0.1\\ 19.39 0.1\\ 19.41 -0.1\\ 19.43 0\\ 19.7 0\\ 19.72 0.1\\ 19.74 -0.1\\ 19.76 0\\ 19.85 0\\ 19.87 0.1\\ 19.89 -0.1\\ 19.91 0.1\\ 19.93 0\\ 20.05 0\\ 20.07 -0.1\\ 20.09 0.1\\ 20.11 -0.1\\ 20.13 0\\
21.2 0\\ 21.22 0.1\\ 21.24 -0.1\\ 21.26 0.1\\ 21.28 -0.1\\ 21.3 0\\ 21.4 0\\ 21.42 0.1\\ 21.44 -0.1\\ 21.46 0.12\\ 21.48 -0.1\\ 21.5 0\\ 21.6 0\\ 21.62 0.1\\ 21.64 -0.1\\ 21.66 0\\ 22.0 0\\ 22.02 0.1\\ 22.04 -0.1\\ 22.06 0\\ 22.2 0\\ 22.22 -0.1\\ 22.24 0.1\\ 22.26 -0.1\\ 22.28 0\\ 22.35 0\\ 22.37 0.1\\ 22.39 0\\ 22.7 0\\ 22.72 0.1\\ 22.74 -0.1\\ 22.76 0\\ 22.9 0\\ 22.92 0.1\\ 22.94 -0.1\\ 22.96 0\\ 23.6 0\\ 23.62 0.1\\ 23.64 -0.1\\ 23.66 0.1\\ 23.68 -0.1\\ 23.7 0\\ 23.97 0\\
}\dth

\pgfplotsset{
  met/.style={
    scale only axis, width=535.68pt,
    xmin=-0.06, xmax=23.97,
    axis on top,
    tick align=outside,
    major tick length=3.5pt,
    axis line style={line width=0.8pt},
    every tick/.style={black, line width=0.8pt},
    /pgf/number format/assume math mode=true,
    yticklabel style={font=\fontsize{10}{12}\selectfont},
    xticklabel style={font=\fontsize{8.5}{10}\selectfont},
    ylabel style={font=\fontsize{11}{13}\selectfont, align=center},
    scaled ticks=false,
    clip marker paths=true,
    anchor=north west,
  },
  metmain/.style={met,
    xtick={0,3,6,9,12,15,18,21},
    xticklabels={02/00 UTC,02/03 UTC,02/06 UTC,02/09 UTC,02/12 UTC,02/15 UTC,02/18 UTC,02/21 UTC},
    xtick pos=left, ytick pos=left,
    grid=major,
    grid style={draw=black, draw opacity=0.09, line width=1.1pt},
  },
  mettwin/.style={met, axis x line=none, axis y line*=right, ytick pos=right},
  metlegend/.style={
    legend style={at={(0.0148,1.104)}, anchor=north west,
      draw=black!40, line width=0.6pt, rounded corners=2.5pt, fill=white,
      font=\fontsize{10}{12}\selectfont, inner xsep=3pt, inner ysep=2.5pt,
      /tikz/every even column/.append style={column sep=16pt}},
    legend cell align=left,
  },
  patchlegend/.style={legend image code/.code={\draw[##1, rounded corners=0pt] (0pt,-3.8pt) rectangle (24pt,3.8pt);}},
  linelegend/.style={legend image code/.code={\draw[##1] (0pt,0pt) -- (24pt,0pt);}},
}

\begin{document}
\begin{tikzpicture}
\useasboundingbox (0,0) rectangle (667.44pt,-886.32pt);

% logo (simplified double T)
\fill[logoc] \PX{22}{4} -- \PX{90}{4} -- \PX{90}{30} -- \PX{72}{30} -- \PX{72}{74} -- \PX{78}{78} -- \PX{78}{86} -- \PX{34}{86} -- \PX{34}{78} -- \PX{40}{74} -- \PX{40}{30} -- \PX{22}{30} -- cycle;
\fill[white] \PX{25}{7} -- \PX{87}{7} -- \PX{87}{27} -- \PX{69}{27} -- \PX{69}{75.5} -- \PX{75}{79.5} -- \PX{75}{83} -- \PX{37}{83} -- \PX{37}{79.5} -- \PX{43}{75.5} -- \PX{43}{27} -- \PX{25}{27} -- cycle;
\fill[logoc!85] \PX{28}{10} -- \PX{84}{10} -- \PX{84}{24} -- \PX{66}{24} -- \PX{66}{77} -- \PX{72}{81} -- \PX{40}{81} -- \PX{46}{77} -- \PX{46}{24} -- \PX{28}{24} -- cycle;
\fill[white] \PX{31}{14} -- \PX{81}{14} -- \PX{81}{20} -- \PX{62}{20} -- \PX{62}{78} -- \PX{50}{78} -- \PX{50}{20} -- \PX{31}{20} -- cycle;
\fill[logoc] \PX{34}{16} -- \PX{78}{16} -- \PX{78}{18} -- \PX{59}{18} -- \PX{59}{76} -- \PX{53}{76} -- \PX{53}{18} -- \PX{34}{18} -- cycle;

% titles
\node[anchor=base west, inner sep=0pt, font=\bfseries\fontsize{14.4}{17}\selectfont] at \PX{113}{24} {24-Hour Meteogram for Station 0103A};
\node[anchor=base west, inner sep=0pt, font=\fontsize{12.4}{15}\selectfont] at \PX{115}{52} {Latest Observation: 03/02/23 23:54 UTC};

% ---------- panel 1: wind ----------
\begin{axis}[metmain, at={(74.16pt,-66.96pt)}, height=125.28pt,
  ymin=0, ymax=23.2, ytick={0,5,10,15,20}, ylabel={Wind Speed\\(knots)}]
\addplot[fill=windfill, draw=none] table {\speed} \closedcycle;
\addplot[windedge, line width=0.7pt] table {\speed};
\addplot[only marks, mark=square*, color=gustc, mark size=1.4pt,
  mark options={fill=gustc, fill opacity=0.65, draw opacity=0}] table {\gust};
\end{axis}
\begin{axis}[mettwin, metlegend, legend columns=3, at={(74.16pt,-66.96pt)}, height=125.28pt,
  ymin=0, ymax=362, ytick={45,135,225,315}, yticklabels={NE,SE,SW,NW}, ylabel={Wind Direction\\(degrees)}]
\addlegendimage{patchlegend, fill=windfill, draw=windedge}
\addlegendentry{Wind Speed}
\addlegendimage{legend image code/.code={\path[draw=none, fill=none] (0pt,-3.8pt) rectangle (24pt,3.8pt); \fill[draw=none, fill=gustc!60, rounded corners=0pt] (10.1pt,-1.9pt) rectangle (13.9pt,1.9pt);}}
\addlegendentry{3-sec Gust}
\addplot[only marks, mark=*, mark size=0.95pt, mark options={draw=none, fill=black},
  legend image code/.code={\path[draw=none, fill=none] (0pt,-3.8pt) rectangle (24pt,3.8pt); \fill[draw=none, fill=black!80] (12pt,0pt) circle (3.3pt);}] table {\wdir};
\addlegendentry{Wind Direction}
\end{axis}

% ---------- panel 2: temperature / dewpoint / RH ----------
\begin{axis}[metmain, at={(74.16pt,-235.44pt)}, height=125.28pt,
  ymin=57.17, ymax=71.67, ytick={60,65,70}, ylabel={Temperature\\(F)}]
\addplot[fill=tempfill, draw=none] table {\temp} \closedcycle;
\addplot[tempedge, line width=0.6pt] table {\temp};
\addplot[fill=dewfill, draw=none] table {\dew} \closedcycle;
\addplot[dewedge, line width=0.6pt] table {\dew};
\end{axis}
\begin{axis}[mettwin, metlegend, legend columns=3, at={(74.16pt,-235.44pt)}, height=125.28pt,
  ymin=0, ymax=103.6, ytick={0,25,50,75,100}, ylabel={Relative Humidity\\(\%)}]
\addlegendimage{patchlegend, fill=tempfill, draw=tempedge}
\addlegendentry{Temperature}
\addlegendimage{patchlegend, fill=dewfill, draw=dewedge}
\addlegendentry{Dewpoint}
\addplot[rhc, line width=3.2pt, linelegend] table {\rh};
\addlegendentry{Relative Humidity}
\end{axis}

% ---------- panel 3: pressure ----------
\begin{axis}[metmain, metlegend, at={(74.16pt,-404.64pt)}, height=123.84pt,
  ymin=996.03, ymax=1008.06, ytick={997.5,1000,1002.5,1005,1007.5},
  yticklabels={997.5,1000.0,1002.5,1005.0,1007.5}, ylabel={Mean Sea Level\\Pressure (hPa)}]
\addplot[presc, line width=2.8pt, linelegend] table {\pres};
\addlegendentry{Mean Sea Level Pressure}
\end{axis}

% ---------- panel 4: theta_v / theta_e ----------
\begin{axis}[metmain, at={(74.16pt,-572.4pt)}, height=124.56pt,
  ymin=288.47, ymax=297.9, ytick={290,292,294,296}, ylabel={\thv{} (K)}]
\addplot[thvc, line width=4pt] table {\thetav};
\end{axis}
\begin{axis}[mettwin, metlegend, legend columns=2, at={(74.16pt,-572.4pt)}, height=124.56pt,
  ymin=318.25, ymax=337.03, ytick={320,325,330,335}, ylabel={\thetae{} (K)}]
\addlegendimage{linelegend, thvc, line width=4pt}
\addlegendentry{\thv}
\addplot[thec, line width=3pt, opacity=0.92, linelegend] table {\thetaE};
\addlegendentry{\thetae}
\end{axis}

% ---------- panel 5: 1-min change ----------
\begin{axis}[metmain, metlegend, at={(74.16pt,-740.88pt)}, height=124.56pt,
  ymin=-1.4, ymax=1.26, ytick={-1,0,1}, yticklabels={−1,0,1}, ylabel={Δ\thv{} (K/min)}]
\addplot[dthc, line width=1.5pt, linelegend] table {\dth};
\addlegendentry{1-min Δ\thv}
\node[anchor=base west, inner sep=0pt, text=dthc, font=\fontsize{11.2}{13}\selectfont]
  at (axis description cs:0.02,0.087) {Largest Decrease: -0.39 K/min at 02/02:44 UTC};
\end{axis}
\end{tikzpicture}
\end{document}
